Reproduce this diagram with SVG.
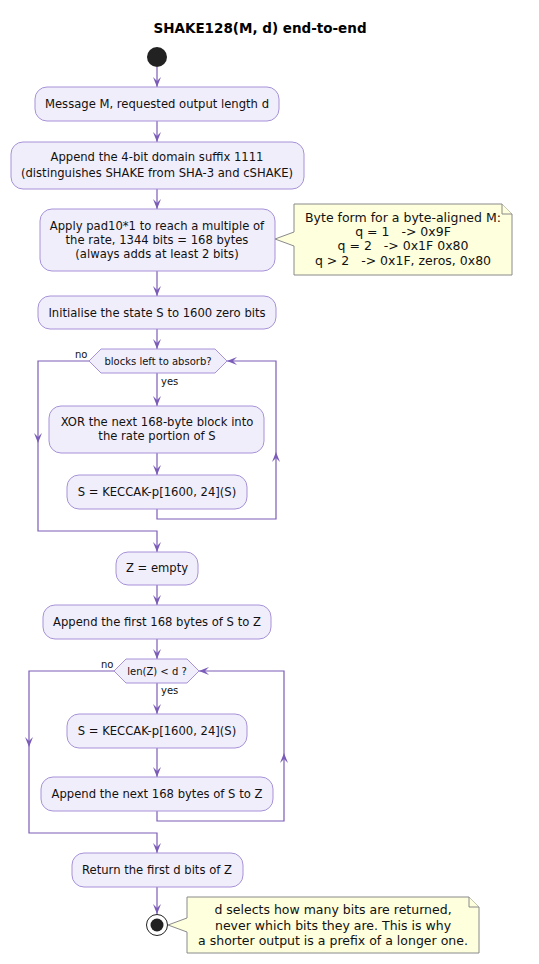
<svg xmlns="http://www.w3.org/2000/svg" width="539" height="964" viewBox="0 0 539 964">
<style>
.box{fill:#F1EEFB;stroke:#A792D8;stroke-width:1}
.hex{fill:#F1EEFB;stroke:#A792D8;stroke-width:1}
.note{fill:#FEFFDD;stroke:#8A8A8A;stroke-width:1}
.t{font-family:"DejaVu Sans",sans-serif;font-size:11.6px;fill:#111;text-anchor:middle}
.dt{font-family:"DejaVu Sans",sans-serif;font-size:10px;fill:#111;text-anchor:middle}
.nt{font-family:"DejaVu Sans",sans-serif;font-size:12.5px;fill:#111;text-anchor:middle;white-space:pre}
.lbl{font-family:"DejaVu Sans",sans-serif;font-size:10px;fill:#111}
.ln{fill:none;stroke:#7B5CB8;stroke-width:1.2}
</style>
<defs>
<marker id="ah" viewBox="0 0 10 8" refX="10" refY="4" markerWidth="10" markerHeight="8" markerUnits="userSpaceOnUse" orient="auto">
<path d="M0,0 L10,4 L0,8 L4,4 Z" fill="#7B5CB8"/>
</marker>
</defs>
<rect width="539" height="964" fill="#FFFFFF"/>
<text x="260" y="33" font-family="DejaVu Sans, sans-serif" font-size="13.5" font-weight="bold" text-anchor="middle" fill="#000">SHAKE128(M, d) end-to-end</text>

<g id="connectors">
<path class="ln" d="M157,67 V87" marker-end="url(#ah)"/>
<path class="ln" d="M157,121 V142" marker-end="url(#ah)"/>
<path class="ln" d="M157,189 V209" marker-end="url(#ah)"/>
<path class="ln" d="M157,271 V296" marker-end="url(#ah)"/>
<path class="ln" d="M157,329 V349" marker-end="url(#ah)"/>
<path class="ln" d="M157,373 V406" marker-end="url(#ah)"/>
<path class="ln" d="M157,453 V475" marker-end="url(#ah)"/>
<path class="ln" d="M157,509 V519 H276 V452" marker-end="url(#ah)"/>
<path class="ln" d="M276,452 V361 H227" marker-end="url(#ah)"/>
<path class="ln" d="M89,361 H38 V443" marker-end="url(#ah)"/>
<path class="ln" d="M38,443 V531 H157 V552" marker-end="url(#ah)"/>
<path class="ln" d="M157,585 V605" marker-end="url(#ah)"/>
<path class="ln" d="M157,639 V659" marker-end="url(#ah)"/>
<path class="ln" d="M157,683 V714" marker-end="url(#ah)"/>
<path class="ln" d="M157,748 V777" marker-end="url(#ah)"/>
<path class="ln" d="M157,811 V821 H284 V753" marker-end="url(#ah)"/>
<path class="ln" d="M284,753 V671 H199" marker-end="url(#ah)"/>
<path class="ln" d="M114,671 H29 V747" marker-end="url(#ah)"/>
<path class="ln" d="M29,747 V833 H157 V853" marker-end="url(#ah)"/>
<path class="ln" d="M157,887 V914" marker-end="url(#ah)"/>
<text class="lbl" x="75" y="358">no</text>
<text class="lbl" x="161" y="385">yes</text>
<text class="lbl" x="101" y="668">no</text>
<text class="lbl" x="161" y="694">yes</text>
</g>

<g id="start"><circle cx="157" cy="57" r="10" fill="#222"/></g>

<g id="msg"><rect class="box" x="35" y="87" width="244" height="34" rx="12"/>
<text class="t" x="157" y="108">Message M, requested output length d</text></g>

<g id="suffix"><rect class="box" x="11" y="142" width="293" height="47" rx="12"/>
<text class="t" x="157" y="161">Append the 4-bit domain suffix 1111</text>
<text class="t" x="157" y="177">(distinguishes SHAKE from SHA-3 and cSHAKE)</text></g>

<g id="pad"><rect class="box" x="40" y="209" width="235" height="62" rx="12"/>
<text class="t" x="157" y="230">Apply pad10*1 to reach a multiple of</text>
<text class="t" x="157" y="244">the rate, 1344 bits = 168 bytes</text>
<text class="t" x="157" y="258">(always adds at least 2 bits)</text></g>

<g id="note1"><path class="note" d="M294,204 L502,204 L512,214 L512,275 L294,275 L294,246 L275,239 L294,232 Z"/>
<path class="note" d="M502,204 L502,214 L512,214"/>
<text class="nt" x="403" y="222">Byte form for a byte-aligned M:</text>
<text class="nt" x="403" y="236">q = 1   -&gt; 0x9F</text>
<text class="nt" x="403" y="250">q = 2   -&gt; 0x1F 0x80</text>
<text class="nt" x="403" y="265">q &gt; 2   -&gt; 0x1F, zeros, 0x80</text></g>

<g id="init"><rect class="box" x="38" y="296" width="238" height="33" rx="12"/>
<text class="t" x="157" y="317">Initialise the state S to 1600 zero bits</text></g>

<g id="dec1"><polygon class="hex" points="89,361 101,349 215,349 227,361 215,373 101,373"/>
<text class="dt" x="158" y="365">blocks left to absorb?</text></g>

<g id="xor"><rect class="box" x="49" y="406" width="215" height="47" rx="12"/>
<text class="t" x="157" y="426">XOR the next 168-byte block into</text>
<text class="t" x="157" y="440">the rate portion of S</text></g>

<g id="perm1"><rect class="box" x="67" y="475" width="180" height="34" rx="12"/>
<text class="t" x="157" y="496">S = KECCAK-p[1600, 24](S)</text></g>

<g id="zempty"><rect class="box" x="116" y="552" width="82" height="33" rx="12"/>
<text class="t" x="157" y="572">Z = empty</text></g>

<g id="appfirst"><rect class="box" x="43" y="605" width="228" height="34" rx="12"/>
<text class="t" x="157" y="626">Append the first 168 bytes of S to Z</text></g>

<g id="dec2"><polygon class="hex" points="114,671 126,659 187,659 199,671 187,683 126,683"/>
<text class="dt" x="157" y="675">len(Z) &lt; d ?</text></g>

<g id="perm2"><rect class="box" x="67" y="714" width="180" height="34" rx="12"/>
<text class="t" x="157" y="735">S = KECCAK-p[1600, 24](S)</text></g>

<g id="appnext"><rect class="box" x="41" y="777" width="232" height="34" rx="12"/>
<text class="t" x="157" y="798">Append the next 168 bytes of S to Z</text></g>

<g id="ret"><rect class="box" x="72" y="853" width="171" height="34" rx="12"/>
<text class="t" x="157" y="874">Return the first d bits of Z</text></g>

<g id="end"><circle cx="157" cy="925" r="10.5" fill="#FFF" stroke="#222" stroke-width="1"/>
<circle cx="157" cy="925" r="6.5" fill="#222"/></g>

<g id="note2"><path class="note" d="M187,897 L469,897 L479,907 L479,953 L187,953 L187,932 L168,925 L187,918 Z"/>
<path class="note" d="M469,897 L469,907 L479,907"/>
<text class="nt" x="333" y="914">d selects how many bits are returned,</text>
<text class="nt" x="333" y="930">never which bits they are. This is why</text>
<text class="nt" x="333" y="945">a shorter output is a prefix of a longer one.</text></g>
</svg>
